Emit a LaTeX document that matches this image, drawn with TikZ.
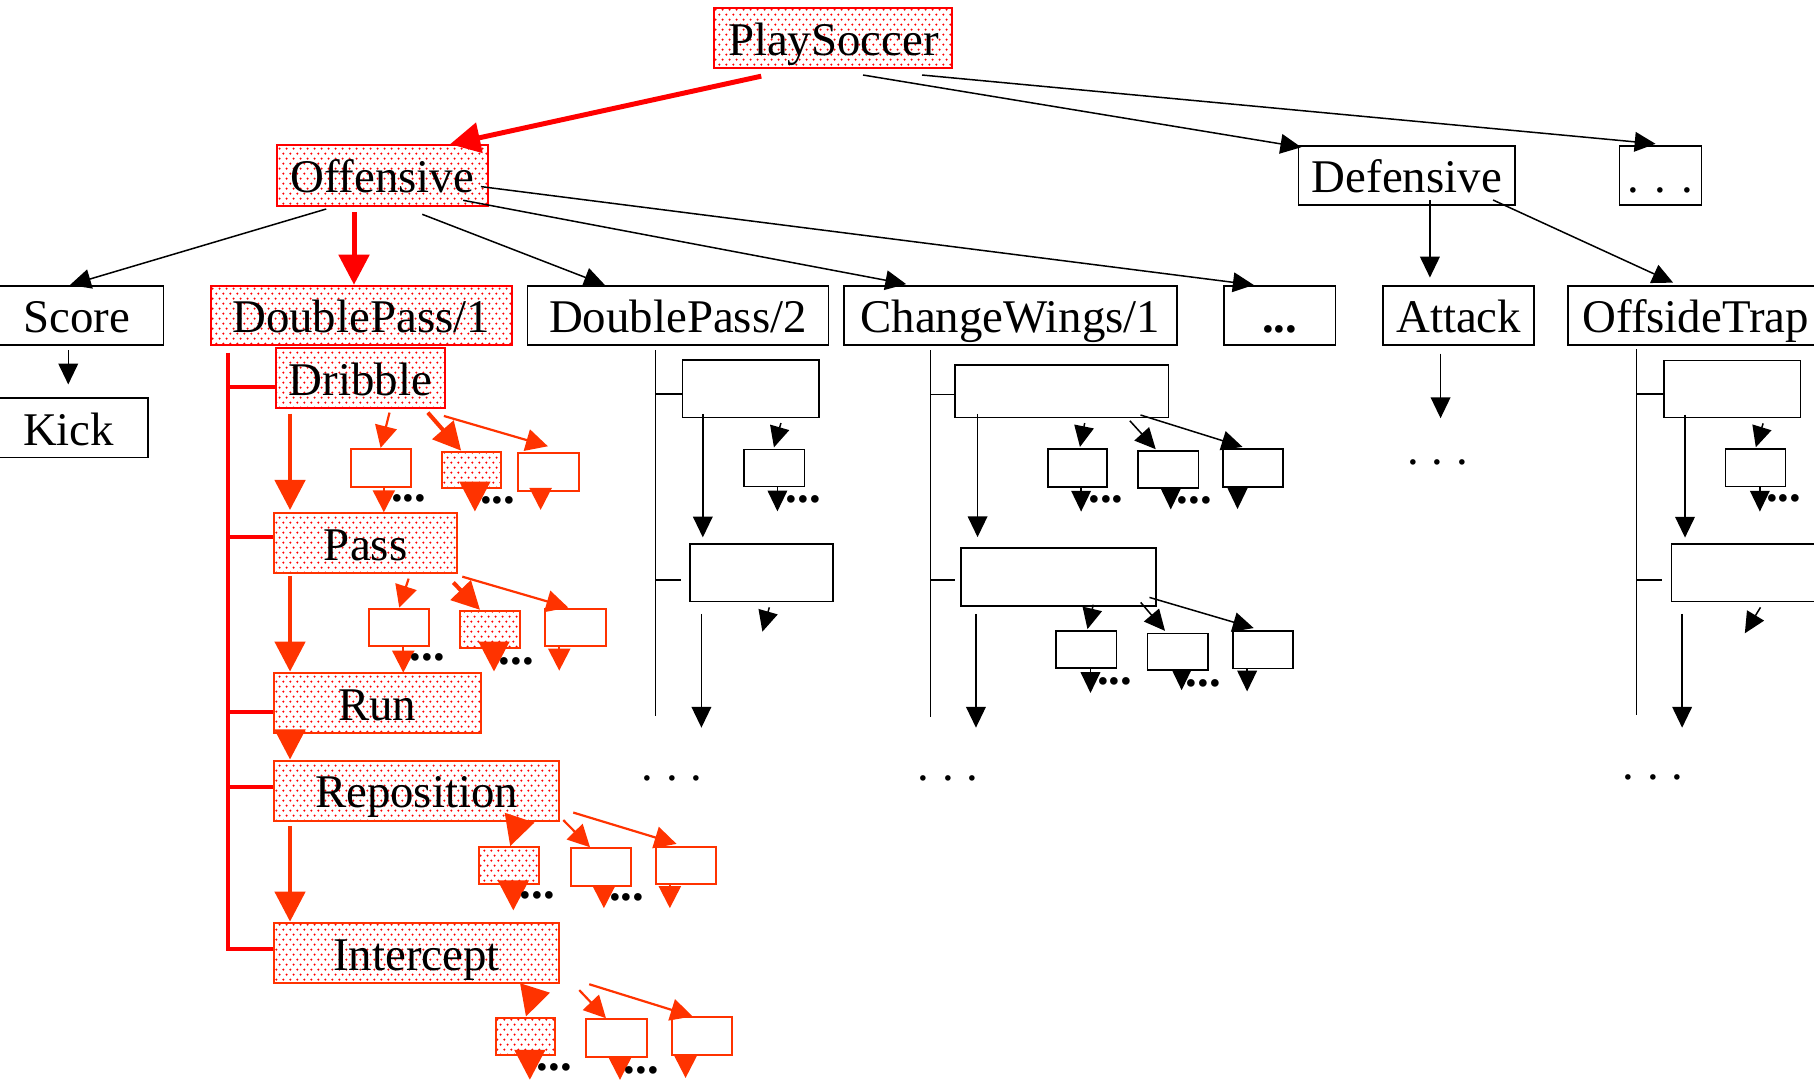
\documentclass[tikz,border=0pt]{standalone}
\usepackage{fontspec}
\setmainfont{Liberation Serif}
\usetikzlibrary{arrows.meta,patterns,calc}
\definecolor{orred}{RGB}{255,51,0}
% staggered red dot fill used for the highlighted boxes
\pgfdeclarepatternformonly{redspots}{\pgfqpoint{0pt}{0pt}}{\pgfqpoint{5.8pt}{8.6pt}}{\pgfqpoint{5.8pt}{8.6pt}}{%
  \pgfpathcircle{\pgfqpoint{1.2pt}{1.2pt}}{1.0pt}%
  \pgfpathcircle{\pgfqpoint{4.1pt}{5.5pt}}{1.0pt}%
  \pgfusepath{fill}}
% box node from its corners: style, name, x1, y1, x2, y2, text
\newcommand\boxnode[7]{\node[#1, minimum width={(#5)-(#3)}, minimum height={(#6)-(#4)}] (#2) at ({((#3)+(#5))/2},{((#4)+(#6))/2}) {#7};}
\newcommand\spaceddots[1]{.\hspace{#1}.\hspace{#1}.}

\begin{document}
\begin{tikzpicture}[x=1pt,y=-1pt,
  lbl/.style={font=\fontsize{40.5}{44}\selectfont, text height=30pt, text depth=0pt, inner sep=0pt},
  bbox/.style={lbl, draw=black, line width=1.4pt},
  rbox/.style={lbl, draw=red, line width=1.7pt, pattern=redspots, pattern color=red},
  obox/.style={rbox, draw=orred},
  kidw/.style={draw=orred, line width=1.7pt, inner sep=0pt},
  kidp/.style={kidw, pattern=redspots, pattern color=red},
  kidb/.style={draw=black, line width=1.4pt, inner sep=0pt},
  link/.style={draw=black, line width=1.3pt},
  arr/.style={link, -{Triangle[length=18pt,width=17pt]}},
  bigred/.style={draw=red, line width=4.3pt, -{Triangle[length=26pt,width=26pt]}},
  bigor/.style={draw=orred, line width=4pt, -{Triangle[length=26pt,width=26pt]}},
  midor/.style={draw=orred, line width=3.5pt, -{Triangle[length=24pt,width=24pt]}},
  thinor/.style={draw=orred, line width=1.9pt, -{Triangle[length=19pt,width=19pt]}},
  trunk/.style={draw=red, line width=3.6pt},
  sdots/.style={font=\fontsize{40.5}{44}\selectfont, inner sep=0pt, anchor=base},
  bdots/.style={font=\fontsize{40.5}{44}\selectfont\bfseries, inner sep=0pt, anchor=base},
]
\useasboundingbox (0,0) rectangle (1568,934);
\clip (0,0) rectangle (1568,934);
\fill[white] (0,0) rectangle (1568,934);

% ---------- top levels ----------
\boxnode{rbox}{PlaySoccer}{617.5}{6.5}{823.3}{59}{PlaySoccer}
\boxnode{rbox}{Offensive}{239.1}{125.5}{421.5}{177.8}{Offensive}
\boxnode{bbox}{Defensive}{1122.5}{126}{1309.6}{177.2}{Defensive}
\boxnode{bbox}{TopMore}{1400}{126}{1470.8}{177.2}{\spaceddots{13.4pt}}

\boxnode{bbox}{Score}{-8}{247}{141.2}{298}{Score}
\boxnode{bbox}{Kick}{-9}{344}{127.7}{395.6}{Kick}
\boxnode{rbox}{DP1}{182}{247}{442.3}{298}{DoublePass/1}
\boxnode{bbox}{DP2}{455.8}{247}{716.2}{298}{DoublePass/2}
\boxnode{bbox}{CW1}{729.3}{247}{1017.4}{298}{ChangeWings/1}
\boxnode{bbox}{MidMore}{1058}{247}{1154.3}{298}{\bfseries...}
\boxnode{bbox}{Attack}{1195.6}{247}{1326.1}{298.4}{Attack}
\boxnode{bbox}{OffsideTrap}{1355.5}{247}{1576}{298.4}{OffsideTrap}

% ---------- DoublePass/1 steps ----------
\boxnode{rbox}{Dribble}{238.5}{301}{384.7}{352.4}{Dribble}
\boxnode{obox}{Pass}{236.8}{443.7}{395.3}{495}{Pass}
\boxnode{obox}{Run}{236.8}{582}{415.5}{633.8}{Run}
\boxnode{obox}{Reposition}{236.8}{657.4}{483.4}{709.3}{Reposition}
\boxnode{obox}{Intercept}{236.8}{798}{483.4}{849.9}{Intercept}

\boxnode{kidw}{D1}{303.4}{388}{354.9}{420.6}{}
\boxnode{kidp}{D2}{382}{390.4}{433.3}{422}{}
\boxnode{kidw}{D3}{448}{391.3}{500.5}{424}{}
\boxnode{kidw}{P1}{319}{526}{371}{558.4}{}
\boxnode{kidp}{P2}{397.6}{528}{449.4}{560.4}{}
\boxnode{kidw}{P3}{471}{526}{523.5}{558.4}{}
\boxnode{kidp}{R1}{414.3}{732.3}{466.1}{764}{}
\boxnode{kidw}{R2}{493.2}{733.2}{545.4}{765.5}{}
\boxnode{kidw}{R3}{566.7}{731.8}{618.8}{764}{}
\boxnode{kidp}{I1}{428.7}{879.6}{479.7}{911.8}{}
\boxnode{kidw}{I2}{506.5}{881}{559}{913.3}{}
\boxnode{kidw}{I3}{581}{879.4}{632.4}{911.8}{}

% ---------- other plans ----------
\boxnode{kidb}{DPa}{590}{311}{708}{361}{}
\boxnode{kidb}{DPb}{596.4}{470.2}{720}{520}{}
\boxnode{kidb}{DPs}{643.2}{388.4}{695.3}{420.6}{}

\boxnode{kidb}{CWa}{825.5}{315.5}{1010}{361}{}
\boxnode{kidb}{CWb}{830.6}{473.6}{999}{523.7}{}
\boxnode{kidb}{CWa1}{905.6}{388}{957}{421}{}
\boxnode{kidb}{CWa2}{983.6}{390}{1036}{422}{}
\boxnode{kidb}{CWa3}{1057}{388}{1109}{421}{}
\boxnode{kidb}{CWb1}{913}{545.5}{965}{577.6}{}
\boxnode{kidb}{CWb2}{992}{547.6}{1044}{579}{}
\boxnode{kidb}{CWb3}{1065.7}{545.6}{1117.6}{578}{}

\boxnode{kidb}{OTa}{1438.2}{311.7}{1556.3}{361}{}
\boxnode{kidb}{OTb}{1444.8}{470.4}{1590}{520}{}
\boxnode{kidb}{OTs}{1491.5}{388.3}{1543.4}{420.6}{}

% ---------- loose arrow ends ----------
\coordinate (atkend) at (1245.2,361.5);
\coordinate (d1end) at (331.8,442.8);
\coordinate (d2end) at (410.5,442.2);
\coordinate (d3end) at (467.3,440.8);
\coordinate (p1end) at (348.6,581.4);
\coordinate (p2end) at (427,580.5);
\coordinate (p3end) at (483.4,579.7);
\coordinate (r1end) at (443.7,787);
\coordinate (r2end) at (522,785);
\coordinate (r3end) at (579,785);
\coordinate (i1end) at (458,933.4);
\coordinate (i2end) at (535.9,933.4);
\coordinate (i3end) at (592.6,931.8);
\coordinate (dpsend) at (672,442);
\coordinate (dpbend) at (659,546);
\coordinate (dplong) at (606.3,629);
\coordinate (cwa1end) at (934.5,442.2);
\coordinate (cwa2end) at (1012,440.4);
\coordinate (cwa3end) at (1069.7,440);
\coordinate (cwb1end) at (942.6,599);
\coordinate (cwb2end) at (1021.4,596.6);
\coordinate (cwb3end) at (1078,597.7);
\coordinate (cwlong) at (843.6,629);
\coordinate (otsend) at (1521.2,442.2);
\coordinate (otbend) at (1508.2,547.4);
\coordinate (otlong) at (1454,629);

% ---------- top connectors ----------
\draw[bigred] ($(PlaySoccer.south -| 658,0)+(0,6)$) -- (Offensive.north -| 389,0);
\draw[arr] ($(PlaySoccer.south -| 746,0)+(0,5)$) -- ($(Defensive.north west)+(3,2)$);
\draw[arr] ($(PlaySoccer.south -| 797,0)+(0,5)$) -- ($(TopMore.north -| 1431,0)+(0,-1)$);

\draw[arr] ($(Offensive.south -| 282,0)+(0,2)$) -- (Score.north -| 60.5,0);
\draw[bigred] ($(Offensive.south -| 306,0)+(0,5)$) -- (DP1.north -| 306,0);
\draw[arr] ($(Offensive.south -| 365,0)+(0,6.6)$) -- (DP2.north -| 522.8,0);
\draw[arr] ($(Offensive.south -| 400.4,0)+(0,-5.5)$) -- ($(CW1.north -| 783.3,0)+(0,-0.7)$);
\draw[arr] ($(Offensive.east |- 0,161.3)+(-6.6,0)$) -- (MidMore.north -| 1083.7,0);

\draw[arr] ($(Defensive.south -| 1236,0)+(0,-5)$) -- ($(Attack.north -| 1236,0)+(0,-6.4)$);
\draw[arr] ($(Defensive.south -| 1290.6,0)+(0,-5)$) -- ($(OffsideTrap.north -| 1446.2,0)+(0,-2)$);

\draw[arr] ($(Score.south -| 59,0)+(0,4)$) -- ($(Kick.north -| 59,0)+(0,-11)$);
\draw[arr] ($(Attack.south -| 1245.2,0)+(0,6.6)$) -- (atkend);
\node[sdots] (atkdots) at (1242.6,401.5) {\spaceddots{10.9pt}};

% ---------- DoublePass/1 sequence ----------
\draw[trunk] ($(DP1.south -| 197,0)+(0,6)$) -- (197,820.5) -- (Intercept.west |- 0,820.5);
\draw[trunk] (197,334.2) -- (Dribble.west |- 0,334.2);
\draw[trunk] (197,464.4) -- (Pass.west |- 0,464.4);
\draw[trunk] (197,615.1) -- (Run.west |- 0,615.1);
\draw[trunk] (197,680) -- (Reposition.west |- 0,680);

\draw[bigor] ($(Dribble.south -| 250.7,0)+(0,4.3)$) -- ($(Pass.north -| 250.7,0)+(0,-2)$);
\draw[bigor] ($(Pass.south -| 250.7,0)+(0,2)$) -- ($(Run.north -| 250.7,0)+(0,-0.6)$);
\draw[bigor] ($(Run.south -| 250.7,0)+(0,-1)$) -- (Reposition.north -| 250.7,0);
\draw[bigor] ($(Reposition.south -| 250.7,0)+(0,3.7)$) -- ($(Intercept.north -| 250.7,0)+(0,-0.5)$);

% Dribble
\draw[thinor] ($(Dribble.south -| 336.7,0)+(0,3.4)$) -- (D1.north -| 329,0);
\draw[midor] ($(Dribble.south -| 369.8,0)+(0,3.4)$) -- (D2.north -| 398.6,0);
\draw[thinor] ($(Dribble.south -| 383.7,0)+(0,6.3)$) -- ($(D3.north -| 473.6,0)+(0,-4.7)$);
\draw[thinor] (D1.south -| 331.8,0) -- (d1end);
\draw[bigor] (D2.south -| 410.5,0) -- (d2end);
\draw[thinor] (D3.south -| 467.3,0) -- (d3end);
\node[bdots] (d1dots) at (353.3,433.5) {...};
\node[bdots] (d2dots) at (430.2,435.5) {...};

% Pass
\draw[thinor] ($(Pass.south -| 353.2,0)+(0,4.3)$) -- (P1.north -| 345.1,0);
\draw[midor] ($(Pass.south -| 391.8,0)+(0,7.7)$) -- (P2.north -| 414.9,0);
\draw[thinor] ($(Pass.south -| 399.6,0)+(0,2.6)$) -- (P3.north -| 491.2,0);
\draw[thinor] (P1.south -| 348.6,0) -- (p1end);
\draw[bigor] (P2.south -| 427,0) -- (p2end);
\draw[thinor] (P3.south -| 483.4,0) -- (p3end);
\node[bdots] (p1dots) at (369.5,571) {...};
\node[bdots] (p2dots) at (446.5,574) {...};

% Reposition
\draw[bigor] ($(Reposition.south -| 449,0)+(0,-3)$) -- (R1.north -| 441,0);
\draw[thinor] ($(Reposition.south -| 486.9,0)+(0,-1.3)$) -- (R2.north -| 510,0);
\draw[thinor] ($(Reposition.south -| 495.5,0)+(0,-7.8)$) -- ($(R3.north -| 584.8,0)+(0,-1.5)$);
\draw[bigor] (R1.south -| 443.7,0) -- (r1end);
\draw[thinor] (R2.south -| 522,0) -- (r2end);
\draw[thinor] (R3.south -| 579,0) -- (r3end);
\node[bdots] (r1dots) at (464.5,777) {...};
\node[bdots] (r2dots) at (541.6,778.5) {...};

% Intercept
\draw[bigor] ($(Intercept.south -| 462,0)+(0,4.7)$) -- (I1.north -| 454.6,0);
\draw[thinor] ($(Intercept.south -| 500.7,0)+(0,5.1)$) -- (I2.north -| 523.8,0);
\draw[thinor] (Intercept.south -| 509.3,0) -- (I3.north -| 598.7,0);
\draw[bigor] (I1.south -| 458,0) -- (i1end);
\draw[thinor] (I2.south -| 535.9,0) -- (i2end);
\draw[thinor] (I3.south -| 592.6,0) -- (i3end);
\node[bdots] (i1dots) at (479,925.3) {...};
\node[bdots] (i2dots) at (554.5,928.2) {...};

% ---------- DoublePass/2 sequence ----------
\draw[link] ($(DP2.south -| 566.7,0)+(0,4)$) -- (566.7,619);
\draw[link] (566.7,340.6) -- (DPa.west |- 0,340.6);
\draw[link] (566.7,501.3) -- ($(DPb.west |- 0,501.3)+(-7,0)$);
\draw[arr] ($(DPa.south -| 607.5,0)+(0,-4)$) -- ($(DPb.north -| 607.5,0)+(0,-5)$);
\draw[arr] ($(DPa.south -| 675,0)+(0,4)$) -- ($(DPs.north -| 669,0)+(0,-1)$);
\draw[arr] (DPs.south -| 672,0) -- (dpsend);
\node[bdots] (dpsdots) at (694.5,434) {...};
\draw[arr] ($(DPb.south -| 665,0)+(0,4.3)$) -- (dpbend);
\draw[arr] ($(DPb.south -| 606.3,0)+(0,10)$) -- (dplong);
\node[sdots] (dpdots) at (581,674.3) {\spaceddots{10.9pt}};

% ---------- ChangeWings/1 sequence ----------
\draw[link] ($(CW1.south -| 804.5,0)+(0,4)$) -- (804.5,619.4);
\draw[link] (804.5,341) -- (CWa.west |- 0,341);
\draw[link] (804.5,501.3) -- ($(CWb.west |- 0,501.3)+(-4,0)$);
\draw[arr] ($(CWa.south -| 845,0)+(0,-4)$) -- ($(CWb.north -| 845,0)+(0,-8.6)$);
\draw[arr] ($(CWa.south -| 937.6,0)+(0,4)$) -- ($(CWa1.north -| 933.5,0)+(0,-1)$);
\draw[arr] ($(CWa.south -| 976.6,0)+(0,2)$) -- ($(CWa2.north -| 999,0)+(0,-1)$);
\draw[arr] ($(CWa.south -| 985.8,0)+(0,-3)$) -- ($(CWa3.north -| 1074,0)+(0,-1)$);
\draw[arr] (CWa1.south -| 934.5,0) -- (cwa1end);
\draw[arr] (CWa2.south -| 1012,0) -- (cwa2end);
\draw[arr] (CWa3.south -| 1069.7,0) -- (cwa3end);
\node[bdots] (cwa1dots) at (956,434.4) {...};
\node[bdots] (cwa2dots) at (1032.3,435.4) {...};
\draw[arr] ($(CWb.south -| 945,0)+(0,-1.7)$) -- ($(CWb1.north -| 940,0)+(0,-1)$);
\draw[arr] ($(CWb.south -| 986,0)+(0,-3.7)$) -- ($(CWb2.north -| 1007,0)+(0,-1.6)$);
\draw[arr] ($(CWb.south -| 993.6,0)+(0,-8)$) -- ($(CWb3.north -| 1083.7,0)+(0,-2)$);
\draw[arr] (CWb1.south -| 942.6,0) -- (cwb1end);
\draw[arr] (CWb2.south -| 1021.4,0) -- (cwb2end);
\draw[arr] (CWb3.south -| 1078,0) -- (cwb3end);
\node[bdots] (cwb1dots) at (963.5,591.8) {...};
\node[bdots] (cwb2dots) at (1040,593.6) {...};
\draw[arr] ($(CWb.south -| 843.6,0)+(0,6.3)$) -- (cwlong);
\node[sdots] (cwdots) at (819.5,674.3) {\spaceddots{10.9pt}};

% ---------- OffsideTrap sequence ----------
\draw[link] ($(OffsideTrap.south -| 1414.6,0)+(0,3)$) -- (1414.6,617.8);
\draw[link] (1414.6,340.5) -- (OTa.west |- 0,340.5);
\draw[link] (1414.6,501.3) -- ($(OTb.west |- 0,501.3)+(-7.2,0)$);
\draw[arr] ($(OTa.south -| 1456.5,0)+(0,-3.2)$) -- ($(OTb.north -| 1456.5,0)+(0,-5)$);
\draw[arr] ($(OTa.south -| 1524,0)+(0,4.3)$) -- ($(OTs.north -| 1517.7,0)+(0,-1)$);
\draw[arr] (OTs.south -| 1521.2,0) -- (otsend);
\node[bdots] (otsdots) at (1541.7,433.8) {...};
\draw[arr] ($(OTb.south -| 1521.7,0)+(0,4.3)$) -- (otbend);
\draw[arr] ($(OTb.south -| 1454,0)+(0,10)$) -- (otlong);
\node[sdots] (otdots) at (1428.9,674.1) {\spaceddots{10.9pt}};
\end{tikzpicture}
\end{document}
